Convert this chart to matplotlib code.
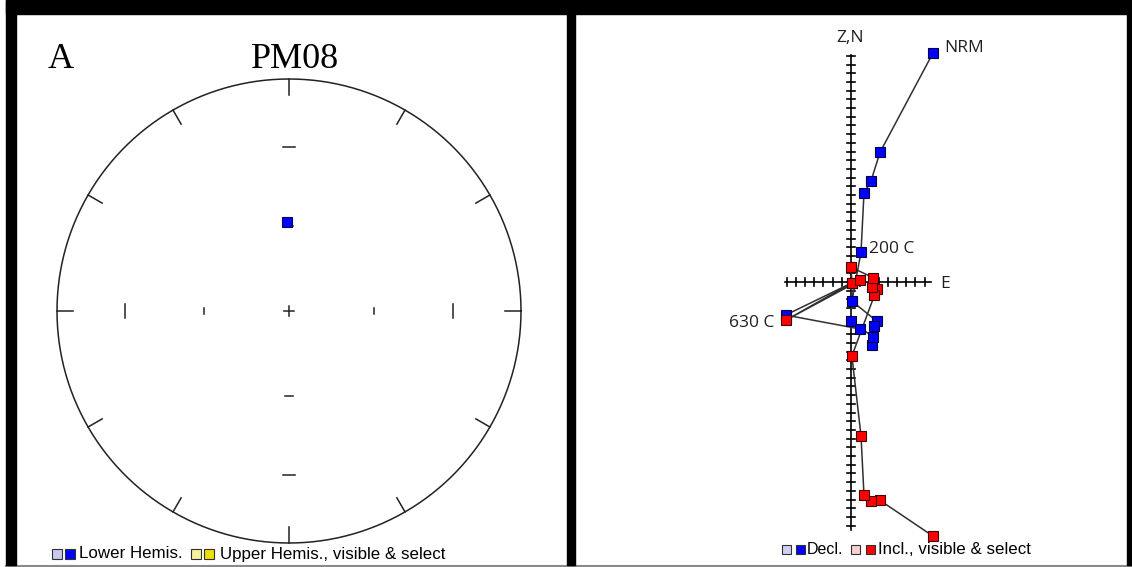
import numpy as np
import matplotlib
matplotlib.use("Agg")
import matplotlib.pyplot as plt
from matplotlib.patches import Rectangle

W, H = 1132, 567

# ---- panel A: equal-area stereonet, one site direction
site = "PM08"
dec_a = [358.7]
inc_a = [58.5]

# ---- panel B: Zijderveld plot (units = tick spacing)
# east -> x for both projections, north -> blue (horizontal proj.), vert -> red (vertical proj.)
east = [8.9, 3.15, 2.17, 1.41, 1.09, 0.1, 2.8, 2.5, 2.3, 2.4, 0.0, 0.1, -7.1, 0.98]
north = [26.3, 14.9, 11.6, 10.2, 3.45, -2.2, -4.5, -5.1, -7.2, -6.3, -4.5, -0.1, -3.8, -5.4]
vert = [-29.2, -25.1, -25.2, -24.5, -17.7, -8.5, -0.8, -1.5, -0.6, 0.5, 1.7, -0.1, -4.4, 0.2]
step_labels = {0: "NRM", 4: "200 C", 12: "630 C"}


def fx(px):
    return px / W


def fy(py):
    return 1 - py / H


fig = plt.figure(figsize=(W / 100, H / 100), dpi=100, facecolor="white")

# black frame like the original figure
for x0, y0, x1, y1 in [(6, 0, W, 14), (6, 0, 16, 565), (567, 0, 575, 565), (1127, 0, W, 565)]:
    fig.patches.append(Rectangle((fx(x0), fy(y1)), (x1 - x0) / W, (y1 - y0) / H,
                                 transform=fig.transFigure, color="black", zorder=5))
fig.lines.append(plt.Line2D([fx(6), 1], [fy(565.5), fy(565.5)], transform=fig.transFigure,
                            color="#8a8a8a", lw=1.5, zorder=5))

# ================= panel A =================
R = 232.0
axA = fig.add_axes([fx(16), fy(565), 551 / W, 551 / H])
axA.set_xlim((16 - 289) / R, (567 - 289) / R)
axA.set_ylim((311 - 565) / R, (311 - 14) / R)
axA.axis("off")

k = "#222222"
t = np.linspace(0, 2 * np.pi, 721)
axA.plot(np.cos(t), np.sin(t), color=k, lw=1.1)
for az in range(0, 360, 30):
    a = np.radians(az)
    r0 = 0.93
    axA.plot([r0 * np.sin(a), np.sin(a)], [r0 * np.cos(a), np.cos(a)], color=k, lw=1.1)

r30 = np.sqrt(2) * np.sin(np.radians(30))
r60 = np.sqrt(2) * np.sin(np.radians(15))
for s in (-1, 1):
    axA.plot([s * r30, s * r30], [-0.03, 0.03], color=k, lw=1.1)
    axA.plot([s * r60, s * r60], [-0.013, 0.013], color=k, lw=1.1)
    axA.plot([-0.026, 0.026], [s * r30, s * r30], color=k, lw=1.1)
    axA.plot([-0.016, 0.016], [s * r60, s * r60], color=k, lw=1.1)
axA.plot([-0.022, 0.022], [0, 0], color=k, lw=1.1)
axA.plot([0, 0], [-0.022, 0.022], color=k, lw=1.1)

d = np.radians(dec_a)
r = np.sqrt(2) * np.sin(np.radians((90 - np.array(inc_a)) / 2))
axA.plot(r * np.sin(d), r * np.cos(d), "s", ms=7.4, mfc="#0000ff", mec="#000060", mew=0.8)

fig.text(fx(48), fy(60), "A", family="Liberation Serif", fontsize=26, va="center", ha="left")
fig.text(fx(295), fy(59), site, family="Liberation Serif", fontsize=26, va="center", ha="center")

# legend A
for x0, c in [(52, "#c8c8f0"), (65, "#0000ff"), (191, "#f6f0a0"), (204, "#f0e000")]:
    fig.patches.append(Rectangle((fx(x0), fy(559)), 10 / W, 10 / H, transform=fig.transFigure,
                                 facecolor=c, edgecolor="#303030", lw=0.8))
fig.text(fx(79), fy(554), "Lower Hemis.", family="Liberation Sans", fontsize=12.2, va="center")
fig.text(fx(220), fy(554), "Upper Hemis., visible & select", family="Liberation Sans",
         fontsize=12.2, va="center")

# ================= panel B =================
ux, uy = 9.2, 8.7
axB = fig.add_axes([fx(575), fy(565), 552 / W, 551 / H])
axB.set_xlim((575 - 851) / ux, (1127 - 851) / ux)
axB.set_ylim((282 - 565) / uy, (282 - 14) / uy)
axB.axis("off")

axB.plot([0, 0], [-28.5, 26.1], color="black", lw=1.2)
axB.plot([-7.2, 8.7], [0, 0], color="black", lw=1.2)
for yt in np.arange(-28, 27):
    axB.plot([-0.45, 0.45], [yt, yt], color="black", lw=1.2)
for xt in np.arange(-7, 9):
    axB.plot([xt, xt], [-0.5, 0.5], color="black", lw=1.2)

axB.plot(east, north, color="#303030", lw=1.1, zorder=2)
axB.plot(east, vert, color="#303030", lw=1.1, zorder=2)
axB.plot(east, north, "s", ms=7.6, mfc="#0000ff", mec="#000040", mew=0.8, zorder=3)
axB.plot(east, vert, "s", ms=7.6, mfc="#ff0000", mec="#400000", mew=0.8, zorder=4)

lab_font = dict(family="Open Sans", fontsize=12.5, color="#202020")
offsets = {0: (8, 4, "left"), 4: (6, 2, "left"), 12: (-8, -6, "right")}
for i, txt in step_labels.items():
    dx, dy, ha = offsets[i]
    axB.annotate(txt, (east[i], north[i]), xytext=(dx, dy), textcoords="offset points",
                 va="center", ha=ha, **lab_font)
fig.text(fx(850), fy(38), "Z,N", va="center", ha="center", **lab_font)
fig.text(fx(940), fy(284), "E", va="center", ha="left", **lab_font)

# legend B
for x0, c in [(782, "#d0d0f4"), (796, "#0000ff"), (851, "#f6d0d0"), (866, "#ff0000")]:
    fig.patches.append(Rectangle((fx(x0), fy(554)), 9 / W, 9 / H, transform=fig.transFigure,
                                 facecolor=c, edgecolor="#303030", lw=0.8))
fig.text(fx(807), fy(550), "Decl.", family="Liberation Sans", fontsize=11.5, va="center")
fig.text(fx(878), fy(550), "Incl., visible & select", family="Liberation Sans",
         fontsize=12.2, va="center")

fig.savefig("out.png", dpi=100, facecolor="white")
